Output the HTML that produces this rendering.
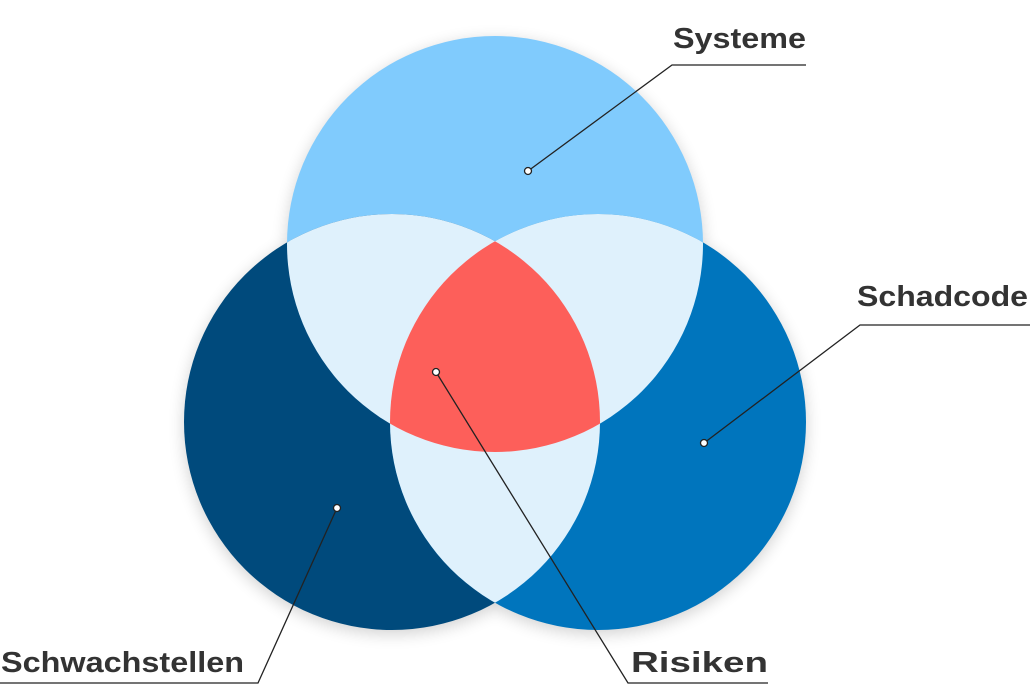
<!DOCTYPE html>
<html><head><meta charset="utf-8"><style>
html,body{margin:0;padding:0;background:#fff;width:1030px;height:685px;overflow:hidden}
text{font-family:"Liberation Sans",sans-serif;font-weight:bold;fill:#333;font-size:29px}
</style></head><body>
<svg width="1030" height="685" viewBox="0 0 1030 685" xmlns="http://www.w3.org/2000/svg">
<defs>
<filter id="sh" x="-20%" y="-20%" width="140%" height="140%"><feGaussianBlur stdDeviation="8"/></filter>
<clipPath id="cT"><circle cx="495" cy="244" r="208"/></clipPath>
<clipPath id="cL"><circle cx="392" cy="422" r="208"/></clipPath>
<clipPath id="cR"><circle cx="598" cy="422" r="208"/></clipPath>
</defs>
<g filter="url(#sh)" opacity="0.18">
<circle cx="495" cy="248" r="208" fill="#000"/>
<circle cx="392" cy="426" r="208" fill="#000"/>
<circle cx="598" cy="426" r="208" fill="#000"/>
</g>
<circle cx="495" cy="244" r="208" fill="#80cbfd"/>
<circle cx="392" cy="422" r="208" fill="#004a7c"/>
<circle cx="598" cy="422" r="208" fill="#0075bd"/>
<g clip-path="url(#cT)"><circle cx="392" cy="422" r="208" fill="#dff1fc"/><circle cx="598" cy="422" r="208" fill="#dff1fc"/></g>
<g clip-path="url(#cL)"><circle cx="598" cy="422" r="208" fill="#dff1fc"/></g>
<g clip-path="url(#cT)"><g clip-path="url(#cL)"><circle cx="598" cy="422" r="208" fill="#fd5f5a"/></g></g>
<g stroke="#222" stroke-width="1.3" fill="none">
<polyline points="528,171 672,65 806,65"/>
<polyline points="704,443 860,325 1030,325"/>
<polyline points="337,508 258,683 0,683"/>
<polyline points="436,372 628,683 768,683"/>
</g>
<g stroke="#222" stroke-width="1.3" fill="#fff">
<circle cx="528" cy="171" r="3.5"/><circle cx="704" cy="443" r="3.5"/>
<circle cx="337" cy="508" r="3.5"/><circle cx="436" cy="372" r="3.5"/>
</g>
<text x="673" y="48" textLength="133" lengthAdjust="spacingAndGlyphs">Systeme</text>
<text x="857" y="306" textLength="171" lengthAdjust="spacingAndGlyphs">Schadcode</text>
<text x="1" y="672" textLength="243" lengthAdjust="spacingAndGlyphs">Schwachstellen</text>
<text x="631" y="672" textLength="137" lengthAdjust="spacingAndGlyphs">Risiken</text>
</svg>
</body></html>
